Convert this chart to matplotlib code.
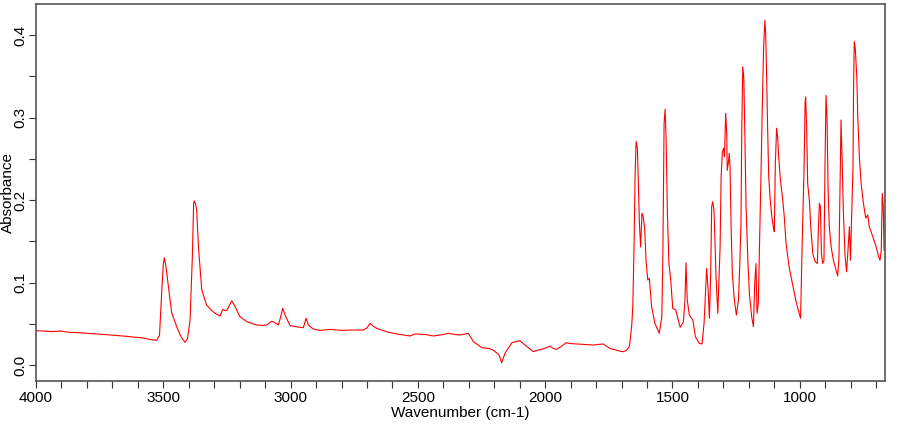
import matplotlib
matplotlib.use("Agg")
import matplotlib.pyplot as plt
from matplotlib.ticker import MultipleLocator

plt.rcParams["font.family"] = ["Liberation Sans", "DejaVu Sans"]

# IR spectrum
wavenumber = [
    4000, 3960, 3940, 3900, 3880, 3860, 3820, 3780, 3740, 3700, 3660, 3620, 3580, 3545, 3526,
    3515, 3506, 3500, 3496, 3489, 3480, 3467, 3447, 3430, 3415, 3405, 3395, 3386, 3381, 3379,
    3374, 3369, 3362, 3349, 3330, 3310, 3297, 3277, 3267, 3258, 3251, 3231, 3218, 3199, 3172,
    3133, 3110, 3094, 3075, 3068, 3048, 3039, 3031, 3022, 3002, 2970, 2950, 2939, 2930, 2911,
    2884, 2845, 2800, 2760, 2714, 2700, 2688, 2675, 2662, 2620, 2583, 2531, 2511, 2470, 2439,
    2400, 2380, 2355, 2335, 2302, 2282, 2249, 2220, 2204, 2181, 2171, 2158, 2131, 2099, 2079,
    2047, 2030, 2014, 1995, 1981, 1968, 1955, 1935, 1918, 1900, 1876, 1850, 1811, 1790, 1772,
    1745, 1720, 1699, 1693, 1680, 1670, 1667, 1660, 1656, 1651, 1647, 1643, 1638, 1634, 1630,
    1625, 1620, 1615, 1609, 1604, 1597, 1591, 1582, 1569, 1552, 1542, 1538, 1533, 1529, 1525,
    1520, 1514, 1507, 1499, 1487, 1470, 1457, 1451, 1447, 1442, 1434, 1420, 1410, 1395, 1384,
    1376, 1371, 1366, 1360, 1355, 1350, 1346, 1342, 1337, 1329, 1322, 1313, 1309, 1304, 1299,
    1296, 1291, 1287, 1285, 1281, 1277, 1274, 1270, 1265, 1257, 1249, 1241, 1236, 1231, 1228,
    1224, 1220, 1216, 1211, 1204, 1198, 1189, 1182, 1177, 1172, 1168, 1163, 1157, 1152, 1147,
    1142, 1137, 1134, 1131, 1127, 1122, 1116, 1110, 1104, 1100, 1096, 1091, 1087, 1083, 1076,
    1067, 1061, 1054, 1042, 1029, 1016, 1006, 997, 990, 983, 979, 977, 973, 969, 962,
    957, 949, 940, 931, 927, 923, 919, 915, 910, 905, 901, 897, 893, 889, 884,
    877, 868, 859, 851, 846, 842, 838, 834, 829, 822, 816, 809, 805, 801, 795,
    791, 789, 786, 782, 776, 772, 766, 759, 750, 741, 733, 727, 713, 700, 690,
    685, 680, 676, 672, 669,
]
absorbance = [
    0.0416, 0.0410, 0.0405, 0.0412, 0.0400, 0.0395, 0.0390, 0.0380, 0.0372, 0.0362, 0.0352, 0.0340, 0.0328, 0.0305, 0.0300,
    0.036, 0.091, 0.122, 0.130, 0.118, 0.095, 0.063, 0.046, 0.034, 0.0275, 0.032, 0.0545, 0.131, 0.195, 0.199,
    0.196, 0.188, 0.143, 0.091, 0.0727, 0.066, 0.0627, 0.0594, 0.0675, 0.066, 0.066, 0.078, 0.0707, 0.0586, 0.0525,
    0.0485, 0.048, 0.0485, 0.053, 0.0525, 0.0485, 0.0586, 0.0687, 0.0606, 0.0477, 0.046, 0.0453, 0.0566, 0.0485, 0.0436,
    0.0420, 0.0432, 0.042, 0.0424, 0.0424, 0.045, 0.0505, 0.047, 0.0444, 0.040, 0.0376, 0.0352, 0.0376, 0.037, 0.0352,
    0.037, 0.0384, 0.037, 0.0364, 0.0384, 0.0283, 0.021, 0.020, 0.018, 0.012, 0.0028, 0.0142, 0.027, 0.0295, 0.0242,
    0.0162, 0.018, 0.019, 0.021, 0.023, 0.020, 0.019, 0.023, 0.027, 0.026, 0.0255, 0.025, 0.0242, 0.025, 0.0255,
    0.020, 0.018, 0.0162, 0.0162, 0.018, 0.022, 0.028, 0.0485, 0.0707, 0.143, 0.228, 0.271, 0.263, 0.220, 0.172,
    0.143, 0.184, 0.180, 0.164, 0.127, 0.103, 0.105, 0.0707, 0.0505, 0.0384, 0.0586, 0.127, 0.293, 0.310, 0.273,
    0.184, 0.123, 0.103, 0.0687, 0.0667, 0.0457, 0.0525, 0.0788, 0.124, 0.0788, 0.0606, 0.0545, 0.0343, 0.0263, 0.0255,
    0.0505, 0.0828, 0.117, 0.091, 0.0566, 0.111, 0.192, 0.198, 0.188, 0.107, 0.0627, 0.143, 0.228, 0.2586, 0.2626,
    0.2525, 0.305, 0.281, 0.236, 0.2444, 0.2566, 0.240, 0.1717, 0.111, 0.0788, 0.0606, 0.0788, 0.119, 0.1717, 0.281,
    0.3616, 0.349, 0.285, 0.192, 0.127, 0.087, 0.0586, 0.0465, 0.099, 0.123, 0.0627, 0.0747, 0.1596, 0.236, 0.317,
    0.386, 0.418, 0.402, 0.3616, 0.297, 0.228, 0.200, 0.180, 0.1677, 0.1616, 0.2444, 0.287, 0.2768, 0.2525, 0.2242,
    0.200, 0.180, 0.1475, 0.119, 0.099, 0.0788, 0.0667, 0.0566, 0.1555, 0.240, 0.319, 0.325, 0.289, 0.220, 0.198,
    0.1677, 0.1354, 0.1253, 0.123, 0.1636, 0.196, 0.192, 0.1354, 0.123, 0.127, 0.240, 0.327, 0.301, 0.216, 0.1677,
    0.1434, 0.127, 0.117, 0.1079, 0.131, 0.216, 0.297, 0.2525, 0.188, 0.131, 0.113, 0.1475, 0.1677, 0.127, 0.196,
    0.240, 0.327, 0.392, 0.384, 0.349, 0.299, 0.2525, 0.220, 0.196, 0.178, 0.182, 0.1677, 0.1555, 0.1434, 0.131,
    0.127, 0.139, 0.208, 0.192, 0.139,
]

fig = plt.figure(figsize=(9.1, 4.25), dpi=100)
ax = fig.add_axes([0.0396, 0.1035, 0.933, 0.887])

ax.plot(wavenumber, absorbance, color="red", lw=0.8)

ax.set_xlim(4000, 665)
ax.set_ylim(-0.0194, 0.4376)
ax.xaxis.set_major_locator(MultipleLocator(500))
ax.xaxis.set_minor_locator(MultipleLocator(100))
ax.yaxis.set_major_locator(MultipleLocator(0.1))
ax.yaxis.set_minor_locator(MultipleLocator(0.05))
ax.yaxis.set_major_formatter(lambda v, pos: f"{v:.1f}")
ax.tick_params(which="both", direction="out", length=5, width=0.8, color="#333333", labelsize=11)
ax.tick_params(axis="x", pad=2)
ax.tick_params(axis="y", pad=1)
for lab in ax.get_yticklabels():
    lab.set_rotation(90)
    lab.set_va("center")

for sp in ax.spines.values():
    sp.set_color("#555555")
    sp.set_linewidth(1.2)

ax.set_xlabel("Wavenumber (cm-1)", fontsize=11, labelpad=1)
ax.set_ylabel("Absorbance", fontsize=11)
ax.yaxis.set_label_coords(-0.0245, 0.5)

fig.savefig("out.png", dpi=100)
